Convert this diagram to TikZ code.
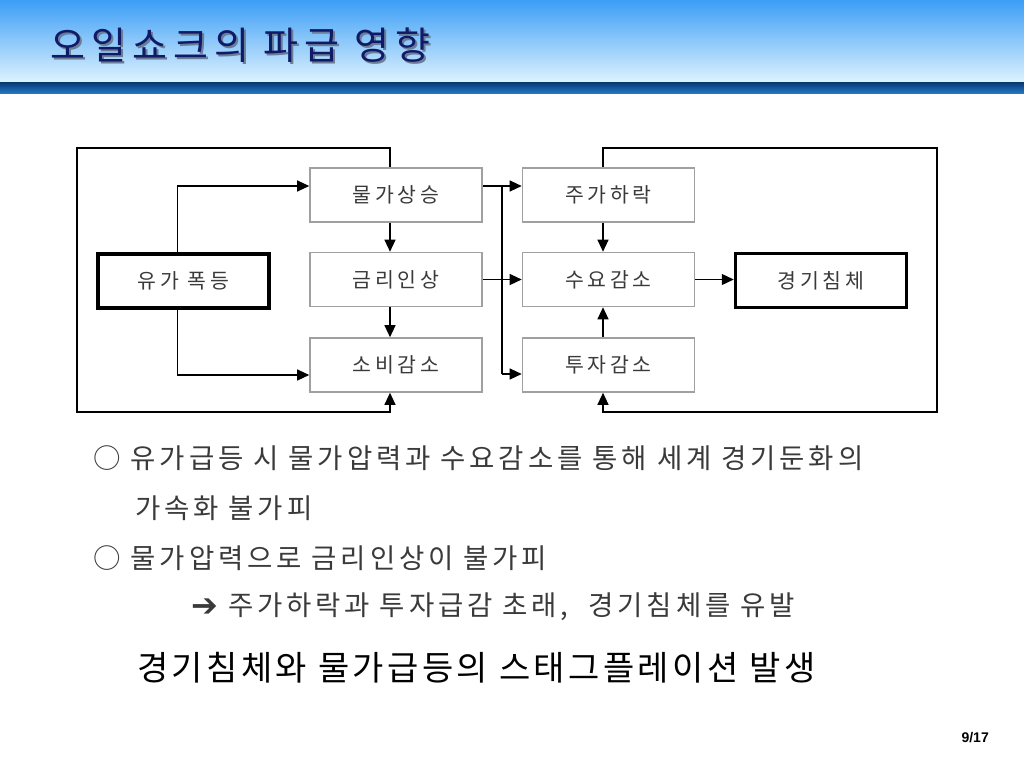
\documentclass[tikz,border=0pt]{standalone}
\usepackage{fontspec}
\setmainfont{Noto Sans CJK KR}
\newfontfamily\symfont{DejaVu Sans}
\newfontfamily\numfont{Liberation Sans}
\usepackage{xcolor}
\usetikzlibrary{arrows.meta}
\usetikzlibrary{positioning}
\usetikzlibrary{calc}
\definecolor{headtop}{HTML}{3C9EF6}
\definecolor{headbot}{HTML}{DDF2FE}
\definecolor{bartop}{HTML}{08376E}
\definecolor{barbot}{HTML}{2276C8}
\definecolor{titleblue}{HTML}{101A66}
\definecolor{titleshadow}{HTML}{6A7E98}
\definecolor{boxgray}{HTML}{A0A0A0}
\definecolor{textgray}{HTML}{3A3A3A}
\newcommand\boxfont{\fontsize{20.5}{22}\selectfont\addfontfeature{LetterSpace=18}}
\newcommand\bodyfont{\fontsize{27.5}{30}\selectfont\addfontfeature{LetterSpace=14}}
\tikzset{
  stepbox/.style = {draw=boxgray, line width=1.6pt, minimum width=172pt,
    minimum height=54pt, inner sep=0pt, text=textgray, font=\boxfont},% gray box
  endbox/.style = {draw=black, line width=3.5pt, minimum width=171pt,
    minimum height=54pt, inner sep=0pt, text=textgray, font=\boxfont},% thick box
  link/.style = {->, line width=1.2pt},
  bodytext/.style = {anchor=west, inner sep=0pt, text=textgray, font=\bodyfont}
}

\begin{document}
\begin{tikzpicture}[x=1pt,y=-1pt,>={Triangle[length=12pt,width=11pt]}]
\useasboundingbox (0,0) rectangle (1024,768);
\fill[white] (0,0) rectangle (1024,768);
% header
\shade[top color=headtop, bottom color=headbot] (0,0) rectangle (1024,82);
\shade[top color=bartop, bottom color=barbot] (0,82) rectangle (1024,93);
\node[anchor=west, inner sep=0pt, text=titleshadow,
  font=\fontsize{38}{40}\selectfont\addfontfeature{LetterSpace=16}]
  at (52,47) {오일쇼크의 파급 영향};
\node[anchor=west, inner sep=0pt, text=titleblue,
  font=\fontsize{38}{40}\selectfont\addfontfeature{LetterSpace=16}]
  (title) at (50,45) {오일쇼크의 파급 영향};

% boxes
\node [endbox] (yuga) at (183.5,281) {유가 폭등};
\node [stepbox] (mulga) at (396,195) {물가상승};
\node [stepbox] (geumri) at (396,279.5) {금리인상};
\node [stepbox] (sobi) at (396,365) {소비감소};
\node [stepbox] (juga) at (608.5,195) {주가하락};
\node [stepbox] (suyo) at (608.5,279.5) {수요감소};
\node [stepbox] (tuja) at (608.5,365) {투자감소};
\node [endbox] (gyeong) at (821,280.5) {경기침체};

\coordinate (lc) at (390,0);
\coordinate (rc) at (603,0);
\coordinate (lt) at (77,148);
\coordinate (lb) at (77,412);
\coordinate (rt) at (937,148);
\coordinate (rb) at (937,412);
\coordinate (bustop) at (502,186);
\coordinate (busbot) at (502,374);

% left column
\draw[link] ([xshift=-6pt]yuga.north) |- ([yshift=9pt]mulga.west);
\draw[link] ([xshift=-6pt]yuga.south) |- ([yshift=-10pt]sobi.west);
\draw[link] (mulga.south -| lc) -- (geumri.north -| lc);
\draw[link] (geumri.south -| lc) -- (sobi.north -| lc);
\draw[link] (mulga.north -| lc) |- (lt) -- (lb) -| (sobi.south -| lc);

% bus to right column
\draw[link] (mulga.east |- bustop) -- (juga.west |- bustop);
\draw[link] (geumri.east) -- (suyo.west);
\draw[line width=1.2pt] (bustop) -- (busbot);
\draw[link] (busbot) -- (tuja.west |- busbot);

% right column
\draw[link] (juga.south -| rc) -- (suyo.north -| rc);
\draw[link] (tuja.north -| rc) -- (suyo.south -| rc);
\draw[link] (suyo.east) -- (suyo.east -| gyeong.west);
\draw[link] (juga.north -| rc) |- (rt) -- (rb) -| (tuja.south -| rc);

% text
\node[bodytext] (l1) at (93,458) {○ 유가급등 시 물가압력과 수요감소를 통해 세계 경기둔화의};
\node[bodytext] (l2) at (135,508) {가속화 불가피};
\node[bodytext] (l3) at (93,558) {○ 물가압력으로 금리인상이 불가피};
\node[bodytext] (l4) at (191,607) {{\symfont\fontsize{32}{34}\selectfont\raisebox{-1pt}{➔}} 주가하락과 투자급감 초래,~ 경기침체를 유발};
\node[anchor=west, inner sep=0pt, text=black,
  font=\fontsize{34}{37}\selectfont\addfontfeature{LetterSpace=10}]
  (l5) at (137,668) {경기침체와 물가급등의 스태그플레이션 발생};
\node[anchor=east, inner sep=0pt, font=\numfont\bfseries\fontsize{14}{16}\selectfont]
  (page) at (989,738) {9/17};
\end{tikzpicture}
\end{document}
